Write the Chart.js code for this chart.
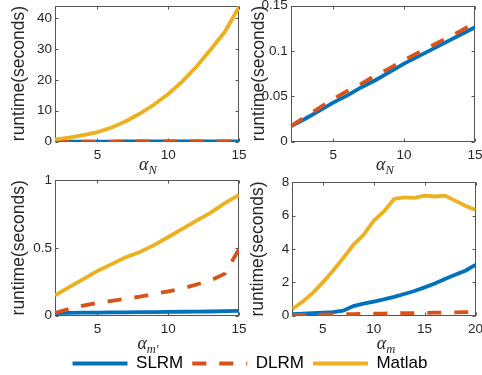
<!DOCTYPE html>
<html>
<head>
<meta charset="utf-8">
<script src="https://cdn.jsdelivr.net/npm/chart.js@4.4.1/dist/chart.umd.min.js"></script>
<style>
  html, body { margin: 0; padding: 0; background: #fff; }
  #wrap { position: relative; width: 482px; height: 375px; overflow: hidden; }
  canvas { position: absolute; left: 0; top: 0; }
  #leg { top: 9px; }
  .xl { position: absolute; font-family: "Liberation Serif", serif; font-style: italic; font-size: 18px;
        color: #262626; line-height: 18px; transform: translate(-50%, -50%); white-space: nowrap; }
  .xl sub { font-size: 12.5px; line-height: 0; vertical-align: -4px; }
</style>
</head>
<body>
<div id="wrap">
  <canvas id="c1" width="482" height="375"></canvas>
  <canvas id="c2" width="482" height="375"></canvas>
  <canvas id="c3" width="482" height="375"></canvas>
  <canvas id="c4" width="482" height="375"></canvas>
  <canvas id="leg" width="482" height="375"></canvas>
  <div class="xl" style="left:148px;top:164px">α<sub>N</sub></div>
  <div class="xl" style="left:385px;top:164px">α<sub>N</sub></div>
  <div class="xl" style="left:148px;top:343px">α<sub>m′</sub></div>
  <div class="xl" style="left:386px;top:343px">α<sub>m</sub></div>
</div>
<script>
// x values
const xN = [2, 3, 4, 5, 6, 7, 8, 9, 10, 11, 12, 13, 14, 15];
const xMp = [2, 3, 4, 5, 6, 7, 8, 9, 10, 11, 12, 13, 14, 15];
const xM = [2, 3, 4, 5, 6, 7, 8, 9, 10, 11, 12, 13, 14, 15, 16, 17, 18, 19, 20];

// runtime vs alpha_N (top row, right panel is a zoom on SLRM / DLRM)
const slrmN = [0.017, 0.025, 0.034, 0.043, 0.051, 0.060, 0.068, 0.077, 0.086, 0.094, 0.102, 0.110, 0.118, 0.126];
const dlrmN = [0.017, 0.027, 0.037, 0.047, 0.056, 0.064, 0.073, 0.081, 0.090, 0.098, 0.106, 0.114, 0.122, 0.131];
const matlabN = [0.75, 1.3, 2.1, 3.1, 4.6, 6.6, 9.1, 12.0, 15.4, 19.5, 24.3, 29.8, 35.5, 43.5];

// runtime vs alpha_m'
const slrmMp = [0.020, 0.021, 0.022, 0.023, 0.024, 0.025, 0.026, 0.027, 0.028, 0.029, 0.030, 0.031, 0.033, 0.035];
const dlrmMp = [0.02, 0.05, 0.075, 0.095, 0.11, 0.125, 0.14, 0.16, 0.18, 0.20, 0.23, 0.26, 0.31, 0.49];
const matlabMp = [0.15, 0.21, 0.27, 0.33, 0.38, 0.43, 0.47, 0.52, 0.58, 0.64, 0.70, 0.76, 0.83, 0.89];

// runtime vs alpha_m
const slrmM = [0.10, 0.12, 0.15, 0.18, 0.22, 0.30, 0.58, 0.72, 0.85, 0.98, 1.13, 1.30, 1.48, 1.70, 1.93, 2.20, 2.45, 2.70, 3.05];
const dlrmM = [0.04, 0.05, 0.06, 0.07, 0.08, 0.09, 0.10, 0.11, 0.12, 0.13, 0.14, 0.15, 0.16, 0.17, 0.18, 0.19, 0.20, 0.21, 0.22];
const matlabM = [0.40, 0.83, 1.35, 2.0, 2.7, 3.45, 4.25, 4.85, 5.7, 6.25, 7.0, 7.1, 7.07, 7.2, 7.15, 7.2, 6.9, 6.6, 6.35];

// tick labels
const xTicksN = [5, 10, 15];
const xTicksM = [5, 10, 15, 20];
const yTicks1 = [0, 10, 20, 30, 40];
const yTicks2 = [0, 0.05, 0.1, 0.15];
const yTicks3 = [0, 0.5, 1];
const yTicks4 = [0, 2, 4, 6, 8];

const names = ['SLRM', 'DLRM', 'Matlab'];
const colors = ['#0072BD', '#D95319', '#EDB120'];
const dash = [14, 13];
const lineW = 3.8;
const axisColor = '#262626';
const family = '"Liberation Sans", Arial, sans-serif';
const W = 482, H = 375, XH = 30;

const pts = (xs, ys) => xs.map((x, i) => ({ x: x, y: ys[i] }));

// matlab style box with inward ticks on all four sides
const boxTicks = {
  id: 'boxTicks',
  beforeDatasetsDraw(chart) {
    const { ctx, chartArea: a, scales: { x, y } } = chart;
    const l = Math.round(a.left) + 0.5, r = Math.round(a.right) - 0.5;
    const t = Math.round(a.top) + 0.5, b = Math.round(a.bottom) - 0.5;
    ctx.save();
    ctx.strokeStyle = '#555';
    ctx.lineWidth = 1;
    ctx.strokeRect(l, t, r - l, b - t);
    ctx.beginPath();
    x.ticks.forEach(tk => {
      const px = Math.round(x.getPixelForValue(tk.value)) + 0.5;
      ctx.moveTo(px, b); ctx.lineTo(px, b - 3);
      ctx.moveTo(px, t); ctx.lineTo(px, t + 3);
    });
    y.ticks.forEach(tk => {
      const py = Math.round(y.getPixelForValue(tk.value)) + 0.5;
      ctx.moveTo(l, py); ctx.lineTo(l + 3, py);
      ctx.moveTo(r, py); ctx.lineTo(r - 3, py);
    });
    ctx.stroke();
    ctx.restore();
  }
};

function panel(id, rect, yw, xs, series, xMax, yMax, xTicks, yTicks) {
  const datasets = series.map((ys, i) => ({
    label: names[i],
    data: pts(xs, ys),
    borderColor: colors[i],
    borderDash: i === 1 ? dash : [],
    order: 3 - i
  }));
  return new Chart(document.getElementById(id), {
    type: 'line',
    data: { datasets: datasets },
    options: {
      responsive: false,
      animation: false,
      layout: { padding: { left: rect.l - yw, top: rect.t, right: W - rect.r, bottom: H - rect.b - XH } },
      elements: { line: { borderWidth: lineW, tension: 0 }, point: { radius: 0 } },
      plugins: { legend: { display: false }, tooltip: { enabled: false } },
      scales: {
        x: {
          type: 'linear', min: 2, max: xMax,
          grid: { display: false, drawTicks: false },
          border: { display: false },
          ticks: { color: axisColor, font: { family: family, size: 13.5 }, padding: 5, autoSkip: false, maxRotation: 0 },
          afterBuildTicks: s => { s.ticks = xTicks.map(v => ({ value: v })); },
          afterFit: s => { s.height = XH; s.paddingLeft = s.paddingRight = s.paddingTop = s.paddingBottom = 0; }
        },
        y: {
          type: 'linear', min: 0, max: yMax,
          grid: { display: false, drawTicks: false },
          border: { display: false },
          ticks: { color: axisColor, font: { family: family, size: 13.5 }, padding: 3, autoSkip: false, callback: v => String(v) },
          title: { display: true, text: 'runtime(seconds)', color: axisColor, font: { family: family, size: 17.5 }, padding: 0 },
          afterBuildTicks: s => { s.ticks = yTicks.map(v => ({ value: v })); },
          afterFit: s => { s.width = yw; s.paddingLeft = s.paddingRight = s.paddingTop = s.paddingBottom = 0; }
        }
      }
    },
    plugins: [boxTicks]
  });
}

panel('c1', { l: 55, t: 5.5, r: 239, b: 141.7 }, 46, xN, [slrmN, dlrmN, matlabN], 15, 44, xTicksN, yTicks1);
panel('c2', { l: 290.7, t: 5.5, r: 475, b: 141.7 }, 42, xN, [slrmN, dlrmN], 15, 0.15, xTicksN, yTicks2);
panel('c3', { l: 55, t: 180, r: 239, b: 315.7 }, 46, xMp, [slrmMp, dlrmMp, matlabMp], 15, 1, xTicksN, yTicks3);
panel('c4', { l: 292.3, t: 182.3, r: 475.5, b: 315.7 }, 44.5, xM, [slrmM, dlrmM, matlabM], 20, 8, xTicksM, yTicks4);

// shared legend along the bottom
new Chart(document.getElementById('leg'), {
  type: 'line',
  data: {
    datasets: names.map((n, i) => ({
      label: n, data: [], borderColor: colors[i], borderWidth: lineW,
      borderDash: i === 1 ? dash : []
    }))
  },
  options: {
    responsive: false,
    animation: false,
    layout: { padding: { left: 18, right: 0, bottom: 2 } },
    scales: { x: { display: false }, y: { display: false } },
    plugins: {
      tooltip: { enabled: false },
      legend: {
        position: 'bottom',
        labels: {
          usePointStyle: true, pointStyle: 'line', pointStyleWidth: 55, padding: 9,
          color: '#000', font: { family: family, size: 17 },
          // line samples with the dataset's own dash pattern
          generateLabels: chart => chart.data.datasets.map((ds, i) => ({
            text: ds.label,
            strokeStyle: ds.borderColor,
            fillStyle: ds.borderColor,
            lineWidth: ds.borderWidth,
            lineDash: ds.borderDash,
            lineDashOffset: 0,
            lineCap: 'butt',
            pointStyle: 'line',
            hidden: false,
            datasetIndex: i
          }))
        }
      }
    }
  }
});
</script>
</body>
</html>
